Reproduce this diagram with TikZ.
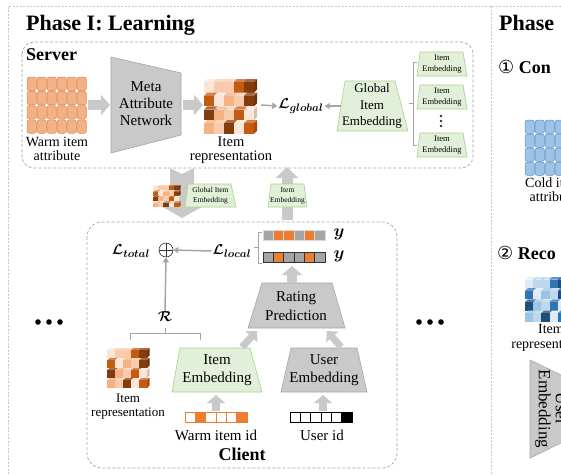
\documentclass[tikz,border=0pt]{standalone}
\usepackage{amsmath,bm}
\usepackage{fontspec}
\setmainfont{Liberation Serif}
\newfontfamily\circfont{DejaVu Sans}
\usetikzlibrary{arrows.meta}
\definecolor{gfill}{HTML}{C9C9C9}
\definecolor{gline}{HTML}{A6A6A6}
\definecolor{grfill}{HTML}{E2F0D9}
\definecolor{grline}{HTML}{A9D18E}
\definecolor{or1}{HTML}{FBE5D6}
\definecolor{or2}{HTML}{F8CBAD}
\definecolor{or3}{HTML}{F4B183}
\definecolor{or4}{HTML}{C55A11}
\definecolor{or5}{HTML}{843C0C}
\definecolor{bl1}{HTML}{DEEBF7}
\definecolor{bl2}{HTML}{BDD7EE}
\definecolor{bl3}{HTML}{9DC3E6}
\definecolor{bl4}{HTML}{2E75B6}
\definecolor{bl5}{HTML}{1F4E79}
\definecolor{ob}{HTML}{ED7D31}
\definecolor{gb}{HTML}{A5A5A5}
\newcommand\repstack[1]{%
  \foreach \r/\row in {0/{1,2,2,4,5},1/{4,1,3,2,5},2/{5,3,2,4,1},3/{3,2,5,1,4}}{%
    \foreach \c [count=\i from 0] in \row {%
      \pgfmathsetmacro\xx{\i*10}%
      \pgfmathsetmacro\yy{3.2+\r*13.7}%
      \fill[fill=#1\c!75!white] (\xx,\yy) -- ++(3.2,-3.2) -- ++(10,0) -- ++(-3.2,3.2) -- cycle;
      \fill[fill=#1\c!85!black] (\xx+10,\yy) -- ++(3.2,-3.2) -- ++(0,10.5) -- ++(-3.2,3.2) -- cycle;
      \fill[fill=#1\c] (\xx,\yy) rectangle ++(10,10.5);
    }}}
\begin{document}
\begin{tikzpicture}[x=1pt,y=-1pt,
  framedash/.style={draw=black!22, dash pattern=on 2pt off 1.5pt, line width=0.6pt},
  boxdash/.style={draw=black!35, dash pattern=on 3pt off 2pt, line width=0.7pt, rounded corners=12pt},
  gshape/.style={fill=gfill, draw=gline, line width=0.6pt},
  grshape/.style={fill=grfill, draw=grline, line width=0.6pt},
  lbl/.style={align=center, inner sep=0pt},
  thinarrow/.style={draw=gline, line width=1.5pt, -{Triangle[length=5pt,width=6pt]}},
  barrow/.style n args={3}{draw=gfill, line width=#1pt, -{Triangle[length=#2pt,width=#3pt]}},
  brk/.style={draw=gline, line width=1pt},
  attrcell/.style={rounded corners=2.5pt, line width=0.5pt},
  title/.style={anchor=base west, inner sep=0pt, font={\fontsize{22}{24}\selectfont\bfseries}},
  subtitle/.style={inner sep=0pt, font={\fontsize{18}{20}\selectfont\bfseries}},
  mathlbl/.style={font={\fontsize{15}{17}\selectfont}, inner sep=1pt},
]
\clip (0,0) rectangle (561,474);
\fill[white] (0,0) rectangle (561,474);

% frames
\draw[framedash] (8,474) -- (8,6) -- (561,6);
\draw[framedash] (491,6) -- (491,474);
\node[title] (t1) at (26,30) {Phase I: Learning};
\node[title] (t2) at (499,30) {Phase};

% ================= server =================
\draw[boxdash] (22,42) rectangle (473,168);
\node[subtitle, anchor=west] (server) at (26,55) {Server};

\foreach \i in {0,...,5}\foreach \j in {0,...,3}
  \draw[attrcell, fill=or3, draw=or4!70] ({27+\i*10},{77+\j*14.25}) rectangle ++(9.4,13.6);
\coordinate (wgE) at (88,105);
\node[lbl, font={\fontsize{14}{14}\selectfont}] (wgl) at (57,149) {Warm item\\attribute};

\draw[gshape] (111,57) -- (181,73) -- (181,135) -- (111,153) -- cycle;
\node[lbl, font={\fontsize{15}{17}\selectfont}] (man) at (146,104) {Meta\\Attribute\\Network};
\coordinate (manW) at (110,105);
\coordinate (manE) at (183,105);
\draw[barrow={10}{9}{20}] (wgE) -- (manW);

\begin{scope}[shift={(204,79)}] \repstack{or} \end{scope}
\coordinate (irW) at (203,105);
\coordinate (irE) at (261,105);
\draw[barrow={10}{9}{20}] (manE) -- (irW);
\node[lbl, font={\fontsize{14.5}{14}\selectfont}] (irl) at (231,150) {Item\\representation};

\node[mathlbl] (lg) at (301,106) {$\bm{\mathcal{L}_{global}}$};
\draw[thinarrow] (irE) -- (lg.west);

\draw[grshape] (345,81) -- (395,81) -- (408,131) -- (337,131) -- cycle;
\node[lbl, font={\fontsize{13}{16.5}\selectfont}] (gie) at (372,106) {Global\\Item\\Embedding};
\coordinate (gieW) at (341,106);
\draw[thinarrow] (gieW) -- (lg.east);

\draw[brk] (417,62) -- (413,62) -- (413,145) -- (417,145);
\draw[brk] (413,103) -- (409,103);
\foreach \yt in {52,85,133}{
  \draw[grshape] (420,\yt) -- (463,\yt) -- (467,\yt+24) -- (417,\yt+24) -- cycle;
  \node[lbl, font={\fontsize{8.5}{11}\selectfont}] at (442,\yt+12.5) {Item\\Embedding};
}
\foreach \yy in {116,121,126} \fill[black!80] (441,\yy) circle (1.3);

% ================= between =================
\draw[fill=gfill, draw=none] (170,168) -- (182,174) -- (194,168) -- (194,205) -- (205,205) -- (182,218) -- (159,205) -- (170,205) -- cycle;
\begin{scope}[shift={(153,185)}, xscale=0.52, yscale=0.4] \repstack{or} \end{scope}
\draw[grshape] (188,184) -- (231,184) -- (236,207) -- (185,207) -- cycle;
\node[lbl, font={\fontsize{7.5}{10}\selectfont}] (gie2) at (210.5,195.5) {Global Item\\Embedding};

\coordinate (upS) at (287,220);
\coordinate (upN) at (287,167);
\draw[barrow={11}{11}{22}] (upS) -- (upN);
\draw[grshape] (271,184) -- (304,184) -- (307,207) -- (268,207) -- cycle;
\node[lbl, font={\fontsize{7.5}{10}\selectfont}] (ie2) at (287.5,195.5) {Item\\Embedding};

% ================= client =================
\draw[boxdash, rounded corners=15pt] (87,222) rectangle (397,468);
\node[subtitle] (client) at (242,454) {Client};

\node[mathlbl] (lt) at (131,251) {$\bm{\mathcal{L}_{total}}$};
\node[circle, draw=black!80, line width=0.6pt, minimum size=14pt, inner sep=0pt] (oplus) at (166,250) {};
\draw[black!80, line width=0.6pt] (oplus.north) -- (oplus.south) (oplus.west) -- (oplus.east);
\node[mathlbl] (ll) at (232,251) {$\bm{\mathcal{L}_{local}}$};
\draw[thinarrow] (ll.west) -- (oplus.east);

\draw[brk] (262,232) -- (258,232) -- (258,263) -- (262,263);
\draw[brk] (258,247.5) -- (254,247.5);
\foreach \c [count=\i from 0] in {gb,ob,ob,gb,ob,gb}
  \draw[draw=white!70!gray, line width=0.4pt, fill=\c] ({263+\i*10.3},230) rectangle ++(10.3,10);
\foreach \c [count=\i from 0] in {gb,ob,gb,gb,ob,gb}
  \draw[draw=black!80, line width=0.6pt, fill=\c] ({263+\i*10.3},252) rectangle ++(10.3,10);
\node[font={\fontsize{16}{16}\selectfont}] (y1) at (339,234) {$\bm{y}$};
\node[font={\fontsize{16}{16}\selectfont}] (y2) at (339,256) {$\bm{y}$};

\draw[gshape] (262,283) -- (332,283) -- (345,328) -- (248,328) -- cycle;
\node[lbl, font={\fontsize{15}{19}\selectfont}] (rp) at (296,306) {Rating\\Prediction};
\coordinate (rpN) at (292,283);
\coordinate (barS) at (292,266);
\draw[barrow={10}{9}{20}] (rpN) -- (barS);

\draw[grshape] (180,348) -- (250,348) -- (262,392) -- (172,392) -- cycle;
\node[lbl, font={\fontsize{15}{18}\selectfont}] (ie) at (217,370.5) {Item\\Embedding};
\draw[gshape] (291,348) -- (357,348) -- (367,392) -- (281,392) -- cycle;
\node[lbl, font={\fontsize{15}{18}\selectfont}] (ue) at (324,370.5) {User\\Embedding};

\coordinate (ieNE) at (242,347);
\coordinate (rpSW) at (257,331);
\coordinate (ueNW) at (341,347);
\coordinate (rpSE) at (327,331);
\draw[barrow={7}{8}{16}] (ieNE) -- (rpSW);
\draw[barrow={7}{8}{16}] (ueNW) -- (rpSE);

\foreach \c [count=\i from 0] in {white,ob,white,white,white,ob}
  \draw[draw=ob, line width=0.5pt, fill=\c] ({185+\i*10.3},412) rectangle ++(10.3,10);
\foreach \c [count=\i from 0] in {white,white,white,white,white,black}
  \draw[draw=black, line width=0.6pt, fill=\c] ({290+\i*10.3},412) rectangle ++(10.3,10);
\node[lbl, font={\fontsize{15}{17}\selectfont}] (wid) at (216,435) {Warm item id};
\node[lbl, font={\fontsize{15}{17}\selectfont}] (uid) at (322,435) {User id};
\coordinate (widN) at (216,411);
\coordinate (ieS) at (216,395);
\coordinate (uidN) at (323,411);
\coordinate (ueS) at (323,395);
\draw[barrow={8}{8}{18}] (widN) -- (ieS);
\draw[barrow={8}{8}{18}] (uidN) -- (ueS);

\begin{scope}[shift={(107,348)}, xscale=0.8, yscale=0.73] \repstack{or} \end{scope}
\node[lbl, font={\fontsize{13}{14}\selectfont}] (irl2) at (128,407) {Item\\representation};

\draw[brk] (130,340) -- (130,333) -- (200,333) -- (200,340);
\draw[brk] (165,333) -- (165,328);
\node[mathlbl] (rr) at (165,317) {$\bm{\mathcal{R}}$};
\draw[thinarrow] (rr.north) -- (oplus.south);

\foreach \xx in {38,49,60} \fill[black] (\xx,322) circle (2.8);
\foreach \xx in {419,430,441} \fill[black] (\xx,322) circle (2.8);

% ================= phase II (partial) =================
\node[subtitle, anchor=base west] (s1) at (498,73) {{\mdseries\circfont ①} Con};
\foreach \i in {0,...,5}\foreach \j in {0,...,3}
  \draw[attrcell, fill=bl3, draw=bl4!80] ({525+\i*10},{120+\j*14}) rectangle ++(9.4,13.4);
\node[lbl, font={\fontsize{14}{14}\selectfont}] (cgl) at (553,190) {Cold item\\attribute};
\node[subtitle, anchor=base west] (s2) at (497,259) {{\mdseries\circfont ②} Reco};
\begin{scope}[shift={(525,277)}, xscale=0.82, yscale=0.82] \repstack{bl} \end{scope}
\node[lbl, font={\fontsize{14}{15}\selectfont}] (irl3) at (551,337.5) {Item\\representation};
\draw[gshape] (530,360) -- (590,389) -- (590,429) -- (530,458) -- cycle;
\node[lbl, rotate=-90, font={\fontsize{17}{17}\selectfont}] (ue2) at (551,409) {User\\Embedding};
\end{tikzpicture}
\end{document}
